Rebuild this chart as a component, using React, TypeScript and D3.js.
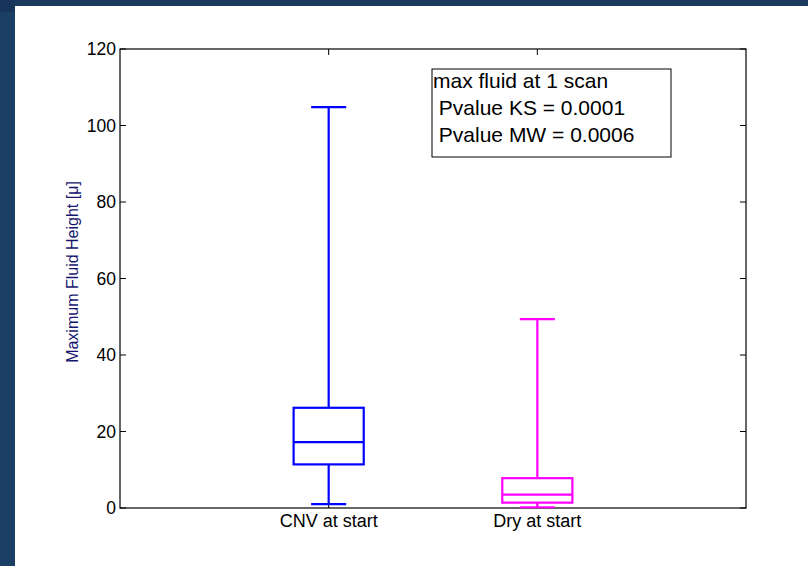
import React from "react";
import * as d3 from "d3";

const categories = ["CNV at start", "Dry at start"];
const whiskerLow = [1.0, 0.2];
const q1 = [11.4, 1.4];
const medians = [17.2, 3.5];
const q3 = [26.2, 7.8];
const whiskerHigh = [104.8, 49.4];
const seriesColors = ["#0000ff", "#ff00ff"];
const yTicks = [0, 20, 40, 60, 80, 100, 120];
const legendLines = ["max fluid at 1 scan", " Pvalue KS = 0.0001", " Pvalue MW = 0.0006"];
const yLabel = "Maximum Fluid Height [\u03bc]";

const W = 808;
const H = 566;
const left = 120, right = 746, top = 49, bottom = 508;
const font = "'Liberation Sans', Arial, Helvetica, sans-serif";

export default function App() {
  const x = d3.scaleLinear().domain([0, 3]).range([left, right]);
  const y = d3.scaleLinear().domain([0, 120]).range([bottom, top]);
  const boxHalf = 0.168;
  const capHalf = 0.084;
  const tickLen = 6;

  return (
    <svg width={W} height={H} style={{ position: "absolute", left: 0, top: 0 }} fontFamily={font}>
      <rect x={0} y={0} width={W} height={H} fill="#ffffff" />
      <rect x={0} y={0} width={W} height={6} fill="#1a3a5f" />
      <rect x={0} y={0} width={15} height={H} fill="#1b3e65" />
      <rect x={0} y={0} width={15} height={12} fill="#17355a" />

      {/* axes box */}
      <rect x={left} y={top} width={right - left} height={bottom - top} fill="none" stroke="#000" strokeWidth={1.2} />

      {/* y ticks */}
      {yTicks.map((t) => (
        <g key={"yt" + t}>
          <line x1={left} x2={left + tickLen} y1={y(t)} y2={y(t)} stroke="#000" strokeWidth={1} />
          <line x1={right} x2={right - tickLen} y1={y(t)} y2={y(t)} stroke="#000" strokeWidth={1} />
          <text x={left - 4} y={y(t)} dy="0.35em" textAnchor="end" fontSize={17.5} fill="#000">
            {t}
          </text>
        </g>
      ))}

      {/* x ticks */}
      {categories.map((c, i) => (
        <g key={"xt" + c}>
          <line x1={x(i + 1)} x2={x(i + 1)} y1={bottom} y2={bottom - tickLen} stroke="#000" strokeWidth={1} />
          <line x1={x(i + 1)} x2={x(i + 1)} y1={top} y2={top + tickLen} stroke="#000" strokeWidth={1} />
          <text x={x(i + 1)} y={527} textAnchor="middle" fontSize={18} fill="#000">
            {c}
          </text>
        </g>
      ))}

      {/* boxes */}
      {categories.map((c, i) => {
        const cx = x(i + 1);
        const bl = x(i + 1 - boxHalf);
        const br = x(i + 1 + boxHalf);
        const cl = x(i + 1 - capHalf);
        const cr = x(i + 1 + capHalf);
        const col = seriesColors[i];
        return (
          <g key={"box" + c} stroke={col} strokeWidth={2.2} fill="none">
            <line x1={cx} x2={cx} y1={y(q3[i])} y2={y(whiskerHigh[i])} />
            <line x1={cx} x2={cx} y1={y(q1[i])} y2={y(whiskerLow[i])} />
            <line x1={cl} x2={cr} y1={y(whiskerHigh[i])} y2={y(whiskerHigh[i])} />
            <line x1={cl} x2={cr} y1={y(whiskerLow[i])} y2={y(whiskerLow[i])} />
            <rect x={bl} y={y(q3[i])} width={br - bl} height={y(q1[i]) - y(q3[i])} />
            <line x1={bl} x2={br} y1={y(medians[i])} y2={y(medians[i])} />
          </g>
        );
      })}

      {/* y label */}
      <text
        transform={`translate(78, 272) rotate(-90)`}
        textAnchor="middle"
        fontSize={16}
        fill="#16166e"
      >
        {yLabel}
      </text>

      {/* legend box */}
      <rect x={432} y={69} width={239} height={88} fill="#fff" stroke="#000" strokeWidth={1} />
      {legendLines.map((l, i) => (
        <text key={"lg" + i} x={433} y={88 + i * 26.8} fontSize={21} fill="#000" style={{ whiteSpace: "pre" }}>
          {l}
        </text>
      ))}
    </svg>
  );
}
